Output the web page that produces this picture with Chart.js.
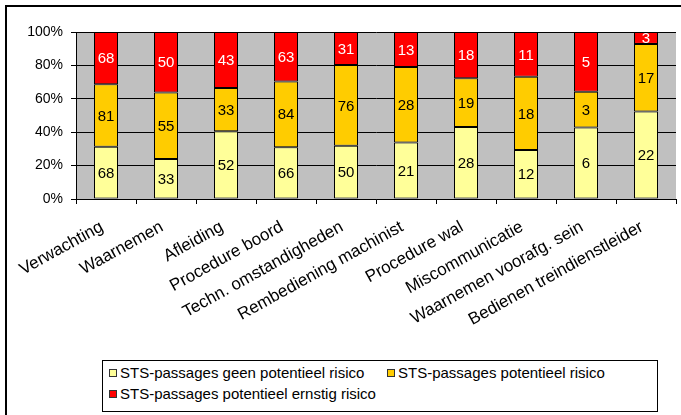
<!DOCTYPE html>
<html>
<head>
<meta charset="utf-8">
<script src="https://cdn.jsdelivr.net/npm/chart.js@4/dist/chart.umd.min.js"></script>
<style>
    html, body { margin: 0; padding: 0; background: #fff; }
    body { width: 681px; height: 415px; position: relative; overflow: hidden; font-family: "Liberation Sans", Arial, sans-serif; }
    #frame { position: absolute; left: 5px; top: 5px; width: 700px; height: 430px; border-left: 2px solid #000; border-top: 2px solid #000; }
    #chart { position: absolute; left: 0; top: 0; }
    #legend { position: absolute; left: 102px; top: 360px; width: 554px; height: 50px; border: 1px solid #000; background: #fff; font-size: 15px; color: #000; }
    .item { position: absolute; height: 20px; line-height: 20px; white-space: nowrap; }
    .item i { display: inline-block; width: 6px; height: 6px; border: 1px solid #333; margin-right: 3px; vertical-align: 1px; }
</style>
</head>
<body>
<div id="frame"></div>
<canvas id="chart" width="681" height="415"></canvas>
<div id="legend"></div>
<script>
    // --- DATA ---
    const categories = ['Verwachting', 'Waarnemen', 'Afleiding', 'Procedure boord', 'Techn. omstandigheden',
        'Rembediening machinist', 'Procedure wal', 'Miscommunicatie', 'Waarnemen voorafg. sein', 'Bedienen treindienstleider'];
    const geenRisico = [68, 33, 52, 66, 50, 21, 28, 12, 6, 22];
    const potentieelRisico = [81, 55, 33, 84, 76, 28, 19, 18, 3, 17];
    const ernstigRisico = [68, 50, 43, 63, 31, 13, 18, 11, 5, 3];
    const seriesLabels = ['STS-passages geen potentieel risico', 'STS-passages potentieel risico', 'STS-passages potentieel ernstig risico'];
    const yTicks = [0, 20, 40, 60, 80, 100];

    const seriesCounts = [geenRisico, potentieelRisico, ernstigRisico];
    const colors = ['#FFFF99', '#FFCC00', '#FF0000'];
    const labelColors = ['#000', '#000', '#fff'];
    const totals = categories.map((_, i) => seriesCounts.reduce((s, arr) => s + arr[i], 0));

    const datasets = seriesCounts.map((arr, k) => ({
        label: seriesLabels[k],
        data: arr.map((v, i) => v / totals[i] * 100),
        counts: arr,
        backgroundColor: colors[k],
        borderColor: '#000',
        borderWidth: 1,
        borderSkipped: false,
        barPercentage: 0.4,
        categoryPercentage: 1.0
    }));

    // grey plot area
    const plotBackground = {
        id: 'plotBackground',
        beforeDraw(chart) {
            const { ctx, chartArea: a } = chart;
            ctx.save();
            ctx.fillStyle = '#C0C0C0';
            ctx.fillRect(a.left, a.top, a.right - a.left, a.bottom - a.top);
            ctx.restore();
        }
    };

    // counts written in the middle of each segment
    const segmentLabels = {
        id: 'segmentLabels',
        afterDatasetsDraw(chart) {
            const ctx = chart.ctx;
            ctx.save();
            ctx.font = '15px "Liberation Sans", Arial, sans-serif';
            ctx.textAlign = 'center';
            ctx.textBaseline = 'middle';
            chart.data.datasets.forEach((ds, k) => {
                chart.getDatasetMeta(k).data.forEach((bar, i) => {
                    ctx.fillStyle = labelColors[k];
                    ctx.fillText(String(ds.counts[i]), bar.x, (bar.y + bar.base) / 2 + 1);
                });
            });
            ctx.restore();
        }
    };

    new Chart(document.getElementById('chart'), {
        type: 'bar',
        data: { labels: categories, datasets: datasets },
        options: {
            responsive: false,
            animation: false,
            events: [],
            layout: { padding: { top: 32, right: 5, left: 0, bottom: 0 } },
            plugins: { legend: { display: false }, tooltip: { enabled: false } },
            scales: {
                x: {
                    stacked: true,
                    afterFit: s => { s.height = 216; },
                    grid: { offset: true, drawOnChartArea: false, color: '#000', tickLength: 5 },
                    border: { color: '#000' },
                    ticks: {
                        autoSkip: false, minRotation: 29, maxRotation: 29, padding: 13, labelOffset: -4,
                        color: '#000', font: { family: '"Liberation Sans", Arial, sans-serif', size: 17 }
                    }
                },
                y: {
                    stacked: true,
                    min: 0, max: 100,
                    afterFit: s => { s.width = 76; },
                    afterBuildTicks: s => { s.ticks = yTicks.map(v => ({ value: v })); },
                    grid: { color: '#000', tickLength: 5 },
                    border: { color: '#000' },
                    ticks: {
                        padding: 8, color: '#000',
                        font: { family: '"Liberation Sans", Arial, sans-serif', size: 14 },
                        callback: v => v + '%'
                    }
                }
            }
        },
        plugins: [plotBackground, segmentLabels]
    });

    // legend box
    const legend = document.getElementById('legend');
    const itemPos = [[6, 2], [284, 2], [6, 23]];
    seriesLabels.forEach((text, k) => {
        const el = document.createElement('div');
        el.className = 'item';
        el.style.left = itemPos[k][0] + 'px';
        el.style.top = itemPos[k][1] + 'px';
        el.innerHTML = `<i style="background:${colors[k]}"></i>${text}`;
        legend.appendChild(el);
    });
</script>
</body>
</html>
